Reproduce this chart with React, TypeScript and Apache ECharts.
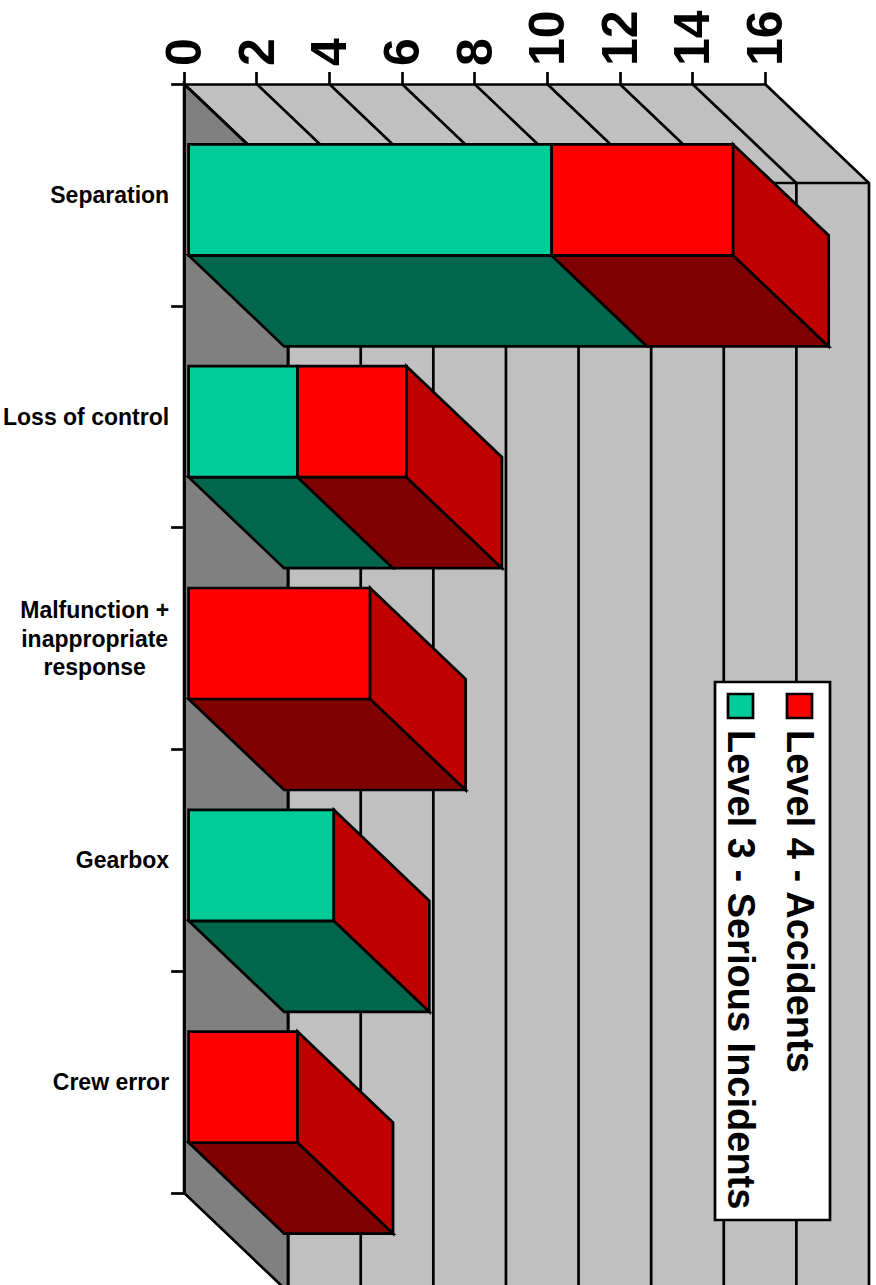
import React, { useEffect, useRef } from "react";
import * as echarts from "echarts";

const categories = ["Separation", "Loss of control", "Malfunction +\ninappropriate\nresponse", "Gearbox", "Crew error"];
const level3Values = [10, 3, 0, 4, 0];
const level4Values = [5, 3, 5, 0, 3];
const valueTicks = [0, 2, 4, 6, 8, 10, 12, 14, 16];
const seriesNames = ["Level 3 - Serious Incidents", "Level 4 - Accidents"];

const FONT = '"Liberation Sans", Arial, sans-serif';
const wallDX = 104;
const wallDY = 99;
const barDX = 95.5;
const barDY = 91;
const barOffX = 4.5;
const barOffY = 5;
const barHalf = 55.5;
const line = { stroke: "#000", lineWidth: 2.7 };

function poly(points: number[][], fill: string) {
  return { type: "polygon", shape: { points }, style: { fill, ...line } };
}

function renderWalls(_p: any, api: any) {
  const band = api.size([0, 1])[1];
  const top = api.coord([0, 0])[1] - band / 2;
  const bottom = top + band * categories.length;
  const x0 = api.coord([0, 0])[0];
  const x1 = api.coord([16, 0])[0];
  const children: any[] = [
    { type: "polygon", shape: { points: [[x0 + wallDX, top + wallDY], [x1 + wallDX, top + wallDY], [x1 + wallDX, bottom + wallDY + 40], [x0 + wallDX, bottom + wallDY + 40]] }, style: { fill: "#C0C0C0" } },
    { type: "polygon", shape: { points: [[x0, top], [x1, top], [x1 + wallDX, top + wallDY], [x0 + wallDX, top + wallDY]] }, style: { fill: "#C0C0C0" } },
    poly([[x0, top], [x0 + wallDX, top + wallDY], [x0 + wallDX, bottom + wallDY], [x0, bottom]], "#808080"),
  ];
  valueTicks.forEach((v) => {
    const x = api.coord([v, 0])[0];
    children.push({ type: "polyline", shape: { points: [[x, top], [x + wallDX, top + wallDY], [x + wallDX, bottom + wallDY + 40]] }, style: { fill: "none", ...line } });
  });
  children.push({ type: "line", shape: { x1: x0 + wallDX, y1: top + wallDY, x2: x1 + wallDX, y2: top + wallDY }, style: line });
  return { type: "group", children };
}

function renderBar(_p: any, api: any) {
  const cat = api.value(0);
  const a = api.value(1);
  const b = api.value(2);
  const cy = api.coord([0, cat])[1] + barOffY;
  const y0 = cy - barHalf;
  const y1 = cy + barHalf;
  const px = (v: number) => api.coord([v, cat])[0] + barOffX;
  const children: any[] = [];
  const seg = (from: number, to: number, front: string, under: string) => {
    if (to <= from) return;
    const l = px(from);
    const r = px(to);
    children.push(poly([[l, y1], [r, y1], [r + barDX, y1 + barDY], [l + barDX, y1 + barDY]], under));
    children.push({ type: "rect", shape: { x: l, y: y0, width: r - l, height: y1 - y0 }, style: { fill: front, ...line } });
  };
  seg(0, a, "#00CC99", "#00664C");
  seg(a, a + b, "#FF0000", "#800000");
  const e = px(a + b);
  children.push(poly([[e, y0], [e + barDX, y0 + barDY], [e + barDX, y1 + barDY], [e, y1]], "#BF0000"));
  return { type: "group", children };
}

export default function App() {
  const ref = useRef<HTMLDivElement>(null);
  useEffect(() => {
    document.body.style.margin = "0";
    document.body.style.overflow = "hidden";
    const chart = echarts.init(ref.current!, null, { renderer: "svg" });
    chart.setOption({
      animation: false,
      backgroundColor: "#fff",
      grid: { left: 183.5, top: 84, width: 581.5, height: 1109, containLabel: false },
      xAxis: {
        type: "value", position: "top", min: 0, max: 16, interval: 2, z: 5,
        axisLine: { show: true, lineStyle: { color: "#000", width: 2.7 } },
        axisTick: { show: true, length: 12, lineStyle: { color: "#000", width: 2.7 } },
        splitLine: { show: false },
        axisLabel: { rotate: -90, margin: 18, color: "#000", fontFamily: FONT, fontWeight: "bold", fontSize: 50 },
      },
      yAxis: {
        type: "category", inverse: true, data: categories, z: 5,
        axisLine: { show: true, lineStyle: { color: "#000", width: 2.7 } },
        axisTick: { show: true, length: 13, lineStyle: { color: "#000", width: 2.7 } },
        splitLine: { show: false },
        axisLabel: {
          margin: 15, color: "#000", interval: 0,
          formatter: (v: string) => v.split("\n").map((s) => `{c|${s}}`).join("\n"),
          rich: { c: { align: "center", fontFamily: FONT, fontWeight: "bold", fontSize: 23, lineHeight: 28.5, color: "#000" } },
        },
      },
      series: [
        { type: "custom", name: "walls", silent: true, clip: false, z: 1, data: [[0]], encode: { x: 0 }, renderItem: renderWalls },
        {
          type: "custom", name: "bars", silent: true, clip: false, z: 2,
          data: categories.map((_, i) => [i, level3Values[i], level4Values[i]]),
          encode: { y: 0, x: [1, 2] },
          renderItem: renderBar,
        },
      ],
      graphic: [
        { type: "rect", z: 10, shape: { x: 715, y: 682, width: 115, height: 538 }, style: { fill: "#fff", ...line } },
        { type: "rect", z: 11, shape: { x: 787, y: 694, width: 25, height: 24 }, style: { fill: "#FF0000", ...line } },
        { type: "rect", z: 11, shape: { x: 728, y: 694, width: 25, height: 24 }, style: { fill: "#00CC99", ...line } },
        { type: "text", z: 11, x: 800, y: 730, rotation: -Math.PI / 2, style: { text: seriesNames[1], fill: "#000", font: `bold 38px ${FONT}`, textAlign: "left", textVerticalAlign: "middle" } },
        { type: "text", z: 11, x: 741, y: 730, rotation: -Math.PI / 2, style: { text: seriesNames[0], fill: "#000", font: `bold 38px ${FONT}`, textAlign: "left", textVerticalAlign: "middle" } },
      ],
    });
    return () => chart.dispose();
  }, []);
  return <div ref={ref} style={{ position: "absolute", left: 0, top: 0, width: 876, height: 1285 }} />;
}
